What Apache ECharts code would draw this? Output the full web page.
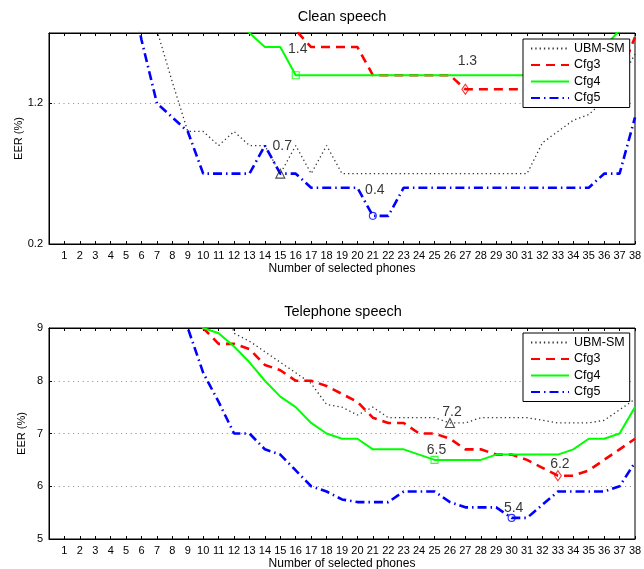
<!DOCTYPE html>
<html>
<head>
<meta charset="utf-8">
<script src="https://cdn.jsdelivr.net/npm/echarts@6/dist/echarts.min.js"></script>
<style>
html,body{margin:0;padding:0;background:#fff;}
#c{width:644px;height:569px;}
</style>
</head>
<body>
<div id="c"></div>
<script>
// ---------- data ----------
const phones = [1,2,3,4,5,6,7,8,9,10,11,12,13,14,15,16,17,18,19,20,21,22,23,24,25,26,27,28,29,30,31,32,33,34,35,36,37,38];
const seriesNames = ['UBM-SM', 'Cfg3', 'Cfg4', 'Cfg5'];

// Clean speech EER (%)
const cleanUBM  = [null,null,null,null,null,2.1,1.72,1.35,1.0,1.0,0.9,1.0,0.9,0.9,0.7,0.9,0.7,0.9,0.7,0.7,0.7,0.7,0.7,0.7,0.7,0.7,0.7,0.7,0.7,0.7,0.7,0.92,1.0,1.08,1.12,1.22,1.35,1.55];
const cleanCfg3 = [null,null,null,null,null,null,null,null,null,null,null,null,null,null,2.0,1.72,1.6,1.6,1.6,1.6,1.4,1.4,1.4,1.4,1.4,1.4,1.3,1.3,1.3,1.3,1.3,1.3,1.3,1.3,1.3,1.3,1.4,1.67];
const cleanCfg4 = [null,null,null,null,null,null,null,null,null,null,null,1.9,1.7,1.6,1.6,1.4,1.4,1.4,1.4,1.4,1.4,1.4,1.4,1.4,1.4,1.4,1.4,1.4,1.4,1.4,1.4,1.4,1.4,1.45,1.5,1.6,1.72,1.85];
const cleanCfg5 = [null,null,null,null,2.2,1.65,1.2,1.1,1.0,0.7,0.7,0.7,0.7,0.9,0.7,0.7,0.6,0.6,0.6,0.6,0.4,0.4,0.6,0.6,0.6,0.6,0.6,0.6,0.6,0.6,0.6,0.6,0.6,0.6,0.6,0.7,0.7,1.1];

// Telephone speech EER (%)
const telUBM  = [null,null,null,null,null,null,null,null,null,null,10.0,8.9,8.75,8.55,8.35,8.15,7.95,7.55,7.5,7.35,7.5,7.3,7.3,7.3,7.3,7.2,7.2,7.3,7.3,7.3,7.3,7.25,7.2,7.2,7.2,7.25,7.45,7.65];
const telCfg3 = [null,null,null,null,null,null,null,null,9.5,9.0,8.7,8.7,8.6,8.3,8.2,8.0,8.0,7.9,7.75,7.6,7.3,7.2,7.2,7.0,7.0,6.9,6.7,6.7,6.6,6.6,6.5,6.35,6.2,6.2,6.3,6.5,6.7,6.9];
const telCfg4 = [null,null,null,null,null,null,null,null,9.5,9.0,8.9,8.65,8.35,8.0,7.7,7.5,7.2,7.0,6.9,6.9,6.7,6.7,6.7,6.6,6.5,6.5,6.5,6.5,6.6,6.6,6.6,6.6,6.6,6.7,6.9,6.9,7.0,7.5];
const telCfg5 = [null,null,null,null,null,null,null,9.6,9.0,8.15,7.6,7.0,7.0,6.7,6.6,6.3,6.0,5.9,5.75,5.7,5.7,5.7,5.9,5.9,5.9,5.7,5.6,5.6,5.6,5.4,5.4,5.65,5.9,5.9,5.9,5.9,6.0,6.45];

// tick labels
const cleanTicks = [0.2, 1.2];
const telTicks = [5, 6, 7, 8, 9];
const panelTitles = ['Clean speech', 'Telephone speech'];

// ---------- styles ----------
const FONT = '"Liberation Sans", Arial, Helvetica, sans-serif';
const colors = ['#333333', '#ff0000', '#00ff00', '#0000ff'];
const lineTypes = [[1.3, 3], [9, 6], 'solid', [9, 4, 1.5, 4]];
const lineWidths = [1.3, 2.6, 2, 2.6];
const markerSymbols = ['triangle', 'diamond', 'rect', 'circle'];
const markerSizes = [9, [7, 10], 7, 7];

const panels = [
  { data: [cleanUBM, cleanCfg3, cleanCfg4, cleanCfg5], ticks: cleanTicks, labelDist: 15, nameGap: 25 },
  { data: [telUBM, telCfg3, telCfg4, telCfg5], ticks: telTicks, labelDist: -1, nameGap: 22 }
];

const grids = [
  { left: 49, right: 9, top: 33, height: 211, show: true, borderColor: '#000', borderWidth: 1, outerBoundsMode: 'none', containLabel: false },
  { left: 49, right: 9, top: 328, height: 211, show: true, borderColor: '#000', borderWidth: 1, outerBoundsMode: 'none', containLabel: false }
];

const xAxes = [];
const yAxes = [];
const series = [];

panels.forEach((p, gi) => {
  xAxes.push({
    type: 'value', gridIndex: gi, min: 0, max: phones[phones.length - 1], interval: 1, position: 'bottom',
    axisLine: { show: true, onZero: false, lineStyle: { color: '#000', width: 1 } },
    axisTick: { show: true, inside: true, length: 3, lineStyle: { color: '#000', width: 1 } },
    axisLabel: { show: true, margin: 6, fontSize: 11, color: '#000', fontFamily: FONT,
      showMinLabel: false, showMaxLabel: true,
      formatter: v => (phones.indexOf(v) >= 0 ? String(v) : '') },
    splitLine: { show: false },
    name: 'Number of selected phones', nameLocation: 'middle', nameGap: 19, nameMoveOverlap: false,
    nameTextStyle: { fontSize: 12, color: '#000', fontFamily: FONT }
  });
  xAxes.push({
    type: 'value', gridIndex: gi, min: 0, max: phones[phones.length - 1], interval: 1, position: 'top',
    axisLine: { show: true, onZero: false, lineStyle: { color: '#000', width: 1 } },
    axisTick: { show: true, inside: true, length: 3, lineStyle: { color: '#000', width: 1 } },
    axisLabel: { show: false }, splitLine: { show: false }
  });
  const t = p.ticks;
  yAxes.push({
    type: 'value', gridIndex: gi,
    min: t[0], max: gi === 0 ? 1.7 : t[t.length - 1], interval: t[1] - t[0],
    axisLine: { show: true, onZero: false, lineStyle: { color: '#000', width: 1 } },
    axisTick: { show: true, inside: true, length: 3, lineStyle: { color: '#000', width: 1 } },
    axisLabel: { show: true, margin: 6, fontSize: 11, color: '#000', fontFamily: FONT,
      showMinLabel: true, showMaxLabel: gi === 1,
      formatter: v => (gi === 0 ? v.toFixed(1) : String(Math.round(v))) },
    splitLine: { show: true, showMinLine: false, showMaxLine: false,
      lineStyle: { color: '#9a9a9a', type: [1.2, 3.6], width: 1 } },
    name: 'EER (%)', nameLocation: 'middle', nameGap: p.nameGap, nameMoveOverlap: false,
    nameTextStyle: { fontSize: 11, color: '#000', fontFamily: FONT }
  });

  p.data.forEach((arr, si) => {
    series.push({
      type: 'line', name: seriesNames[si], xAxisIndex: gi * 2, yAxisIndex: gi,
      data: phones.map((ph, i) => [ph, arr[i]]),
      symbol: 'none', showSymbol: false, connectNulls: false, clip: true,
      lineStyle: { color: colors[si], width: lineWidths[si], type: lineTypes[si] },
      itemStyle: { color: colors[si] },
      z: 2 + si, silent: true
    });
  });
  // minimum markers (first occurrence of each series' minimum)
  p.data.forEach((arr, si) => {
    let mi = -1;
    arr.forEach((v, i) => { if (v !== null && (mi < 0 || v < arr[mi])) mi = i; });
    series.push({
      type: 'scatter', name: 'min_' + gi + '_' + si, xAxisIndex: gi * 2, yAxisIndex: gi,
      data: [[phones[mi], arr[mi]]],
      symbol: markerSymbols[si], symbolSize: markerSizes[si],
      itemStyle: { color: 'rgba(0,0,0,0)', borderColor: si === 0 ? '#222' : colors[si], borderWidth: 1.1 },
      label: { show: true, position: 'top', distance: p.labelDist, offset: [2, 0],
        formatter: q => q.value[1].toFixed(1), fontSize: 14, color: '#000', fontFamily: FONT },
      z: 10, silent: true
    });
  });
});

const legendBase = {
  data: seriesNames, orient: 'vertical', left: 523, itemWidth: 38, itemHeight: 12, itemGap: 3.5,
  padding: [3, 5, 3, 7], backgroundColor: '#fff', borderColor: '#000', borderWidth: 1, borderRadius: 0,
  itemStyle: { color: 'rgba(0,0,0,0)', borderColor: 'rgba(0,0,0,0)', borderWidth: 0, opacity: 0 },
  textStyle: { fontSize: 12.5, color: '#000', fontFamily: FONT }, selectedMode: false, z: 20
};

const chart = echarts.init(document.getElementById('c'));
chart.setOption({
  animation: false,
  backgroundColor: '#fff',
  grid: grids,
  xAxis: xAxes,
  yAxis: yAxes,
  legend: [Object.assign({ top: 39 }, legendBase), Object.assign({ top: 333 }, legendBase)],
  graphic: [
    { type: 'text', x: 342, y: 9, style: { text: panelTitles[0], fill: '#000', font: '14.5px ' + FONT, textAlign: 'center', align: 'center', textVerticalAlign: 'top', verticalAlign: 'top' } },
    { type: 'text', x: 343, y: 304, style: { text: panelTitles[1], fill: '#000', font: '14.5px ' + FONT, textAlign: 'center', align: 'center', textVerticalAlign: 'top', verticalAlign: 'top' } }
  ],
  series: series
});
</script>
</body>
</html>
